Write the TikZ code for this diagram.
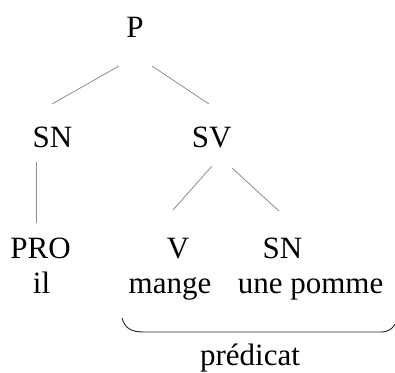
\documentclass[tikz,border=0pt]{standalone}
\usepackage{fontspec}
\setmainfont{Liberation Serif}
\usetikzlibrary{calc}
\begin{document}
\begin{tikzpicture}[x=1pt,y=-1pt,
  lbl/.style={anchor=base,inner sep=0pt,font=\fontsize{31}{37}\selectfont},
  branch/.style={draw=black!45,line width=0.8pt},
  bracket/.style={draw=black!85,line width=0.9pt}]
\useasboundingbox (0,0) rectangle (395,372);
\node[lbl] (P) at (135,37) {P};
\node[lbl] (SN) at (52.5,147.5) {SN};
\node[lbl] (SV) at (211.7,147.5) {SV};
\node[lbl] (PRO) at (40.5,258.5) {PRO};
\node[lbl] (il) at (41.5,293.5) {il};
\node[lbl] (V) at (178,258.5) {V};
\node[lbl] (SNb) at (282.5,258.5) {SN};
\node[lbl] (mange) at (170,293.5) {mange};
\node[lbl] (pomme) at (310.5,293.5) {une pomme};
\node[lbl] (pred) at (250,365) {prédicat};
\draw[branch] ($(P.base)+(-16,29)$) -- ($(SN.base)+(-0.5,-43.5)$);
\draw[branch] ($(P.base)+(17,29)$) -- ($(SV.base)+(-2.7,-43.5)$);
\draw[branch] ($(SN.base)+(-16.5,14.5)$) -- ($(PRO.base)+(-4.5,-35.5)$);
\draw[branch] ($(SV.base)+(0.3,18.5)$) -- ($(V.base)+(-5,-48.5)$);
\draw[branch] ($(SV.base)+(20.3,20.5)$) -- ($(SNb.base)+(-3.5,-47.5)$);
\coordinate (bl) at ($(mange.base)+(-48,24.5)$);
\coordinate (br) at ($(pomme.base)+(84.5,30.5)$);
\draw[bracket] (bl) .. controls ($(bl)+(3,11)$) and ($(bl)+(10,14)$) .. ($(bl)+(22,14)$)
  -- ($(br)+(-14,8)$) .. controls ($(br)+(-6,8)$) and ($(br)+(-2,4)$) .. (br);
\end{tikzpicture}
\end{document}
